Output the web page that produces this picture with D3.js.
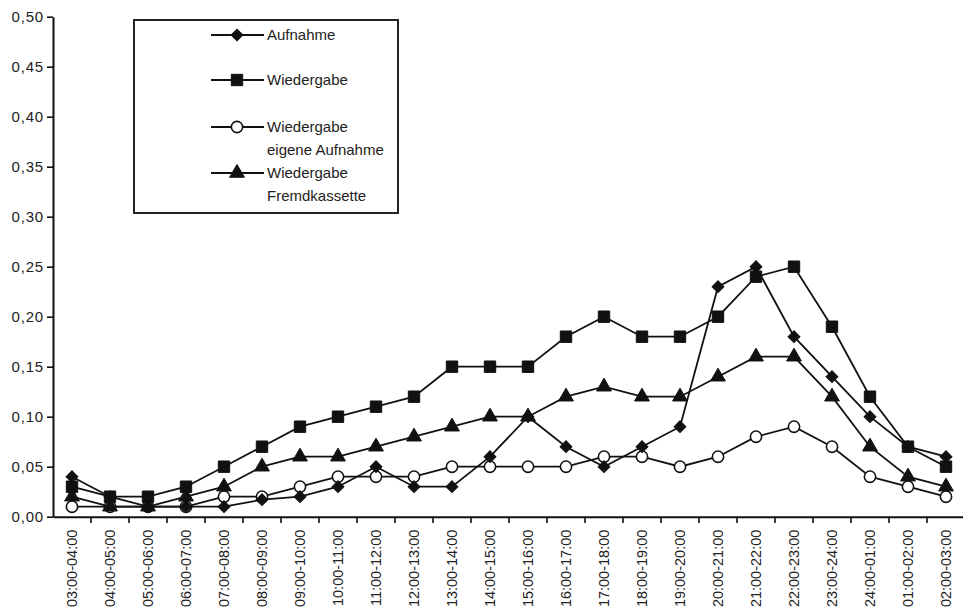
<!DOCTYPE html>
<html><head><meta charset="utf-8">
<script src="https://cdn.jsdelivr.net/npm/d3@7"></script>
<style>body{margin:0;background:#fff}svg{display:block;font-family:"Liberation Sans",Arial,sans-serif}</style>
</head><body><svg id="c" width="963" height="612"></svg>
<script>
const categories = ["03:00-04:00","04:00-05:00","05:00-06:00","06:00-07:00","07:00-08:00","08:00-09:00","09:00-10:00","10:00-11:00","11:00-12:00","12:00-13:00","13:00-14:00","14:00-15:00","15:00-16:00","16:00-17:00","17:00-18:00","18:00-19:00","19:00-20:00","20:00-21:00","21:00-22:00","22:00-23:00","23:00-24:00","24:00-01:00","01:00-02:00","02:00-03:00"];
const aufnahme = [0.04,0.02,0.01,0.01,0.01,0.017,0.02,0.03,0.05,0.03,0.03,0.06,0.10,0.07,0.05,0.07,0.09,0.23,0.25,0.18,0.14,0.10,0.07,0.06];
const wiedergabe = [0.03,0.02,0.02,0.03,0.05,0.07,0.09,0.10,0.11,0.12,0.15,0.15,0.15,0.18,0.20,0.18,0.18,0.20,0.24,0.25,0.19,0.12,0.07,0.05];
const eigene = [0.01,0.01,0.01,0.01,0.02,0.02,0.03,0.04,0.04,0.04,0.05,0.05,0.05,0.05,0.06,0.06,0.05,0.06,0.08,0.09,0.07,0.04,0.03,0.02];
const fremd = [0.02,0.01,0.01,0.02,0.03,0.05,0.06,0.06,0.07,0.08,0.09,0.10,0.10,0.12,0.13,0.12,0.12,0.14,0.16,0.16,0.12,0.07,0.04,0.03];
const yTicks = [0,0.05,0.10,0.15,0.20,0.25,0.30,0.35,0.40,0.45,0.50];
const legendLabels = [["Aufnahme"],["Wiedergabe"],["Wiedergabe","eigene Aufnahme"],["Wiedergabe","Fremdkassette"]];

const svg = d3.select("#c");
const x = d3.scaleBand().domain(categories).range([53, 965]);
const y = d3.scaleLinear().domain([0,0.5]).range([516.7, 16.7]);
const fmt = d => d3.format(".2f")(d).replace(".", ",");

// y axis
const ya = svg.append("g").attr("transform","translate(53,0)")
  .call(d3.axisLeft(y).tickValues(yTicks).tickFormat(fmt).tickSize(6).tickSizeOuter(0));
ya.select(".domain").attr("stroke","#111").attr("stroke-width",2);
ya.selectAll(".tick line").attr("stroke","#111").attr("stroke-width",1.6);
ya.selectAll(".tick text").attr("font-size",15).attr("letter-spacing","0.8px").attr("fill","#222").attr("x",-9)
  .attr("font-family","Liberation Sans, Arial, sans-serif");

// x axis
const xa = svg.append("g").attr("transform","translate(0,516.7)")
  .call(d3.axisBottom(x).tickSize(0).tickSizeOuter(0));
xa.select(".domain").attr("stroke","#111").attr("stroke-width",2);
xa.selectAll(".tick text").attr("font-size",14.5).attr("fill","#222")
  .attr("font-family","Liberation Sans, Arial, sans-serif")
  .attr("transform","rotate(-90)").attr("text-anchor","end").attr("dy","0.35em").attr("x",-13).attr("y",0);
// boundary ticks
svg.append("g").selectAll("line").data(categories.slice(1)).join("line")
  .attr("x1",d=>x(d)).attr("x2",d=>x(d)).attr("y1",516.7).attr("y2",523)
  .attr("stroke","#111").attr("stroke-width",1.6);

const series = [
  {name:"Aufnahme", vals:aufnahme, sym:d3.symbolSquare, size:70, rot:45, fill:"#111"},
  {name:"Wiedergabe", vals:wiedergabe, sym:d3.symbolSquare, size:130, rot:0, fill:"#111"},
  {name:"eigene", vals:eigene, sym:d3.symbolCircle, size:100, rot:0, fill:"#fff"},
  {name:"fremd", vals:fremd, sym:d3.symbolTriangle, size:95, rot:0, fill:"#111"}
];
const cx = (d,i) => x(categories[i]) + x.bandwidth()/2;
const line = d3.line().x((d,i)=>cx(d,i)).y(d=>y(d));
series.forEach(s => {
  svg.append("path").datum(s.vals).attr("d",line).attr("fill","none").attr("stroke","#111").attr("stroke-width",1.8);
});
[1,2,3,0].forEach(k => {
  const s = series[k];
  svg.append("g").selectAll("path").data(s.vals).join("path")
    .attr("transform",(d,i)=>`translate(${cx(d,i)},${y(d)}) rotate(${s.rot})`)
    .attr("d", d3.symbol().type(s.sym).size(s.size))
    .attr("fill", s.fill).attr("stroke","#111").attr("stroke-width", s.fill==="#fff"?1.6:1);
});

// legend
const lg = svg.append("g");
lg.append("rect").attr("x",134).attr("y",20).attr("width",264).attr("height",193)
  .attr("fill","#fff").attr("stroke","#222").attr("stroke-width",2);
const rows = [35,80,127,173];
series.forEach((s,k) => {
  const yy = rows[k];
  lg.append("line").attr("x1",211).attr("x2",264).attr("y1",yy).attr("y2",yy).attr("stroke","#111").attr("stroke-width",1.8);
  lg.append("path").attr("transform",`translate(237,${yy}) rotate(${s.rot})`).attr("d",d3.symbol().type(s.sym).size(s.size))
    .attr("fill",s.fill).attr("stroke","#111").attr("stroke-width", s.fill==="#fff"?1.6:1);
  legendLabels[k].forEach((t,j) => {
    lg.append("text").attr("x",267).attr("y",yy + j*22.5).attr("dy","0.35em").attr("font-size",15)
      .attr("fill","#222").text(t);
  });
});
</script></body></html>
